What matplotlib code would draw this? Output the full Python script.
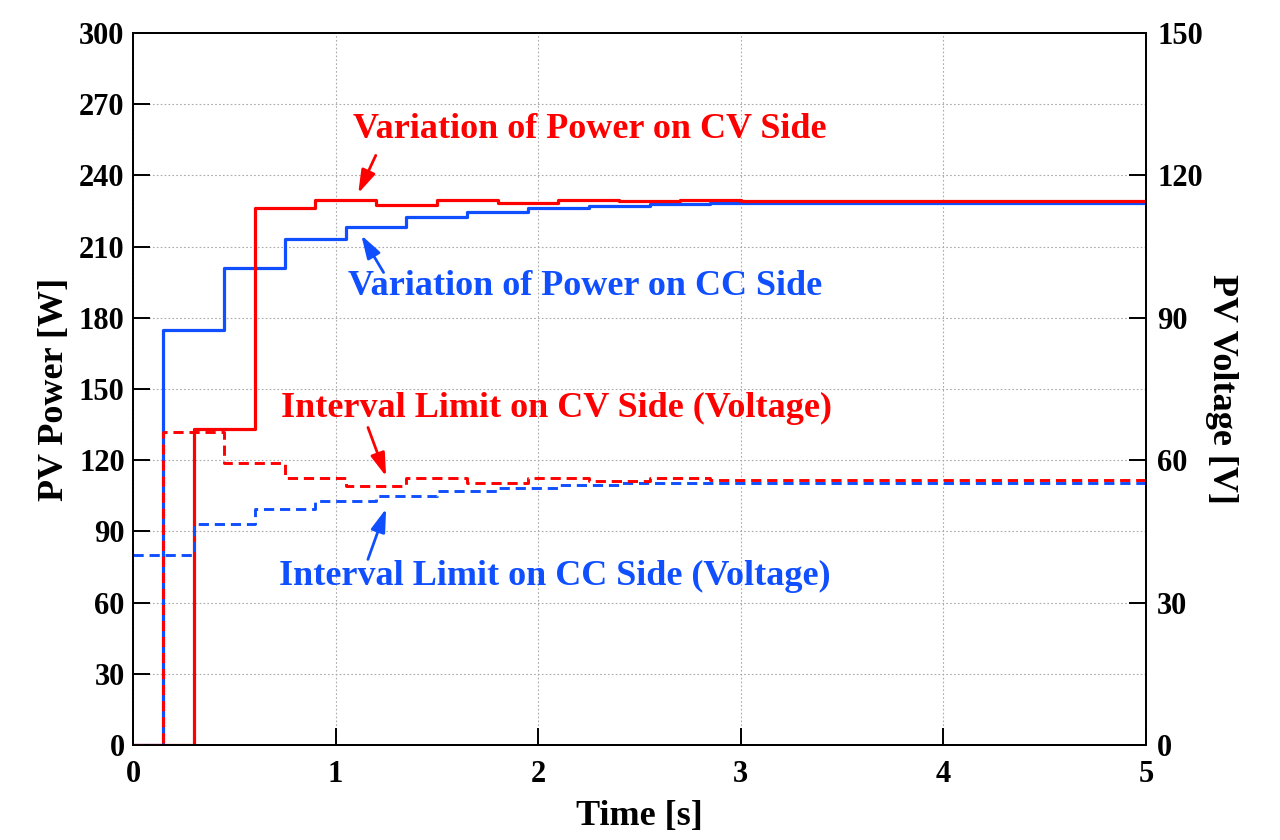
import matplotlib
matplotlib.use('Agg')
import matplotlib.pyplot as plt

#----------------------------
#          DATA
#----------------------------
# power on CV side (W), steps every 0.3 s
t_cv_p = [0, 0.3, 0.6, 0.9, 1.2, 1.5, 1.8, 2.1, 2.4, 2.7, 3.0, 5.0]
p_cv = [0, 133, 226.3, 229.6, 227.6, 229.6, 228.5, 229.6, 229.1, 229.7, 229.2, 229.2]
# power on CC side (W)
t_cc_p = [0, 0.15, 0.45, 0.75, 1.05, 1.35, 1.65, 1.95, 2.25, 2.55, 2.85, 5.0]
p_cc = [0, 175, 201, 213, 218.4, 222.3, 224.7, 226.2, 227.1, 227.8, 228.5, 228.5]
# interval limit on CV side (V)
t_cv_v = [0, 0.15, 0.45, 0.75, 1.05, 1.35, 1.65, 1.95, 2.25, 2.55, 2.85, 5.0]
v_cv = [0, 66, 59.5, 56.15, 54.55, 56.3, 55.3, 56.15, 55.7, 56.15, 55.85, 55.85]
# interval limit on CC side (V)
t_cc_v = [0, 0.3, 0.6, 0.9, 1.2, 1.5, 1.8, 2.1, 2.4, 2.7, 5.0]
v_cc = [40, 46.5, 49.7, 51.5, 52.5, 53.6, 54.1, 54.8, 55.15, 55.25, 55.25]

xticks = [0, 1, 2, 3, 4, 5]
yticks_p = [0, 30, 60, 90, 120, 150, 180, 210, 240, 270, 300]
yticks_v = [0, 30, 60, 90, 120, 150]

red = '#FF0000'
blue = '#0F4FFF'

plt.rcParams['font.family'] = ['Liberation Serif', 'DejaVu Serif']
plt.rcParams['font.weight'] = 'bold'

fig = plt.figure(figsize=(12.8, 8.4), dpi=100)
ax = fig.add_axes([0.1039, 0.1131, 0.7914, 0.8476])
ax2 = ax.twinx()

ax.plot(t_cc_p, p_cc, drawstyle='steps-post', color=blue, lw=2.3)
ax.plot(t_cv_p, p_cv, drawstyle='steps-post', color=red, lw=2.3)
ax2.plot(t_cc_v, v_cc, drawstyle='steps-post', color=blue, lw=2.1, ls=(0, (3.5, 2)))
ax2.plot(t_cv_v, v_cv, drawstyle='steps-post', color=red, lw=2.1, ls=(0, (3.5, 2)))

ax.set_xlim(0, 5)
ax.set_ylim(0, 300)
ax2.set_ylim(0, 150)
ax.set_xticks(xticks)
ax.set_yticks(yticks_p)
ax2.set_yticks(yticks_v)
ax.grid(True, ls=(0, (1.5, 2)), color='#aaaaaa', lw=0.8)

for a in (ax, ax2):
    a.tick_params(direction='in', length=12, width=1.4, labelsize=22, pad=6)
    for s in a.spines.values():
        s.set_linewidth(1.3)
ax.tick_params(axis='x', pad=11)
ax2.tick_params(axis='y', pad=8)

ax.set_xlabel('Time [s]', fontsize=26, fontweight='bold', labelpad=8)
ax.set_ylabel('PV Power [W]', fontsize=26, fontweight='bold', labelpad=6)
ax2.set_ylabel('PV Voltage [V]', fontsize=26, fontweight='bold', rotation=-90, labelpad=25)

# annotations (arrow head at line, text label)
arrow = '-|>,head_length=0.7,head_width=0.22'
ax.annotate('', xy=(1.106, 231.4), xytext=(1.204, 249.5),
            arrowprops=dict(arrowstyle=arrow, color=red, lw=2, mutation_scale=20))
ax.annotate('', xy=(1.120, 215.8), xytext=(1.244, 198.1),
            arrowprops=dict(arrowstyle=arrow, color=blue, lw=2, mutation_scale=20))
ax.annotate('', xy=(1.254, 112.1), xytext=(1.155, 134.9),
            arrowprops=dict(arrowstyle=arrow, color=red, lw=2, mutation_scale=20))
ax.annotate('', xy=(1.254, 100.7), xytext=(1.155, 77.1),
            arrowprops=dict(arrowstyle=arrow, color=blue, lw=2, mutation_scale=20))

ax.text(1.086, 259.2, 'Variation of Power on CV Side', color=red, fontsize=26,
        fontweight='bold', va='center', ha='left')
ax.text(1.061, 193, 'Variation of Power on CC Side', color=blue, fontsize=26,
        fontweight='bold', va='center', ha='left')
ax.text(0.730, 142, 'Interval Limit on CV Side (Voltage)', color=red, fontsize=26,
        fontweight='bold', va='center', ha='left')
ax.text(0.721, 70.8, 'Interval Limit on CC Side (Voltage)', color=blue, fontsize=26,
        fontweight='bold', va='center', ha='left')

plt.savefig('out.png', dpi=100)
